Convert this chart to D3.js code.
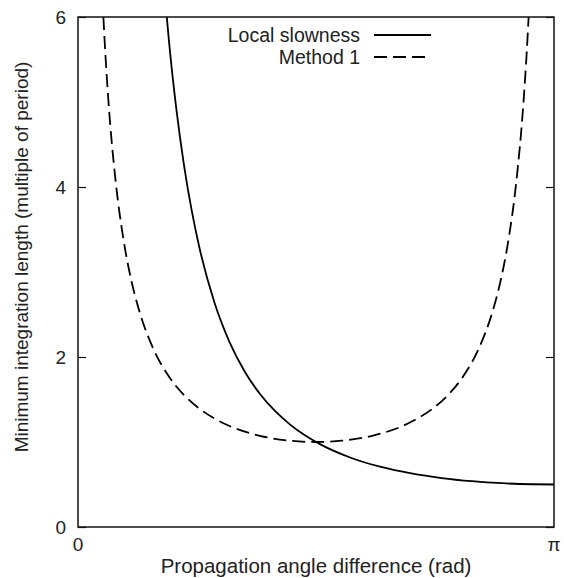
<!DOCTYPE html>
<html>
<head>
<meta charset="utf-8">
<script src="https://cdn.jsdelivr.net/npm/d3@7"></script>
<style>
  html, body { margin: 0; padding: 0; background: #fff; }
  text { font-family: "Liberation Sans", Arial, Helvetica, sans-serif; fill: #222; }
</style>
</head>
<body>
<svg id="chart" width="564" height="578"></svg>
<script>
// Data
const slownessAngle = [0.586, 0.6, 0.65, 0.7, 0.75, 0.8, 0.9, 1.0, 1.1, 1.2, 1.3, 1.4, 1.5, 1.6, 1.8, 2.0, 2.2, 2.4, 2.6, 2.8, 3.0, 3.1416];
const slownessValue = [6.0, 5.725, 4.904, 4.252, 3.727, 3.297, 2.643, 2.175, 1.830, 1.568, 1.365, 1.205, 1.076, 0.972, 0.815, 0.706, 0.630, 0.576, 0.539, 0.515, 0.503, 0.500];

const method1Angle = [0.1674, 0.18, 0.2, 0.25, 0.3, 0.35, 0.4, 0.5, 0.6, 0.7, 0.8, 0.9, 1.0, 1.2, 1.4, 1.5708, 1.7416, 1.9416, 2.1416, 2.2416, 2.3416, 2.4416, 2.5416, 2.6416, 2.7416, 2.7916, 2.8416, 2.8916, 2.9416, 2.9616, 2.9742];
const method1Value = [6.0, 5.586, 5.033, 4.042, 3.384, 2.916, 2.568, 2.086, 1.771, 1.552, 1.394, 1.277, 1.188, 1.073, 1.015, 1.000, 1.015, 1.073, 1.188, 1.277, 1.394, 1.552, 1.771, 2.086, 2.568, 2.916, 3.384, 4.042, 5.033, 5.586, 6.0];

const yTickValues = [0, 2, 4, 6];
const yTickLabels = ["0", "2", "4", "6"];
const xTickValues = [0, Math.PI];
const xTickLabels = ["0", "π"];

const seriesNames = ["Local slowness", "Method 1"];
const xTitle = "Propagation angle difference (rad)";
const yTitle = "Minimum integration length (multiple of period)";

// Layout
const svg = d3.select("#chart");
const mLeft = 78, mRight = 554, mTop = 17, mBottom = 527;
const x = d3.scaleLinear().domain([0, Math.PI]).range([mLeft, mRight]);
const y = d3.scaleLinear().domain([0, 6]).range([mBottom, mTop]);
const tickFont = 19, legendFont = 19.5, xTitleFont = 20.5, yTitleFont = 19;

svg.append("clipPath").attr("id", "clip")
  .append("rect").attr("x", mLeft).attr("y", mTop).attr("width", mRight - mLeft).attr("height", mBottom - mTop);

// Inward ticks on left and right
const yAxisL = d3.axisRight(y).tickValues(yTickValues).tickSize(8).tickFormat("");
const yAxisR = d3.axisLeft(y).tickValues(yTickValues).tickSize(8).tickFormat("");
const gL = svg.append("g").attr("transform", `translate(${mLeft},0)`).call(yAxisL);
const gR = svg.append("g").attr("transform", `translate(${mRight},0)`).call(yAxisR);
[gL, gR].forEach(g => {
  g.select(".domain").remove();
  g.selectAll("line").attr("stroke", "#111").attr("stroke-width", 1.2);
});

// Y tick labels
svg.append("g").selectAll("text").data(yTickValues).join("text")
  .attr("x", 66).attr("y", d => y(d)).attr("dy", "0.36em")
  .attr("text-anchor", "end").style("font-size", tickFont + "px")
  .text((d, i) => yTickLabels[i]);

// X tick labels
svg.append("g").selectAll("text").data(xTickValues).join("text")
  .attr("x", d => x(d)).attr("y", 551)
  .attr("text-anchor", "middle").style("font-size", tickFont + "px")
  .text((d, i) => xTickLabels[i]);

// Lines
const line = d3.line().x(d => x(d[0])).y(d => y(d[1])).curve(d3.curveMonotoneX);
const slowPts = slownessAngle.map((a, i) => [a, slownessValue[i]]);
const m1Pts = method1Angle.map((a, i) => [a, method1Value[i]]);

const plot = svg.append("g").attr("clip-path", "url(#clip)");
plot.append("path").datum(slowPts).attr("d", line)
  .attr("fill", "none").attr("stroke", "#000").attr("stroke-width", 1.8);
plot.append("path").datum(m1Pts).attr("d", line)
  .attr("fill", "none").attr("stroke", "#000").attr("stroke-width", 1.8)
  .attr("stroke-dasharray", "13,6");

// Frame
svg.append("rect").attr("x", mLeft).attr("y", mTop).attr("width", mRight - mLeft).attr("height", mBottom - mTop)
  .attr("fill", "none").attr("stroke", "#111").attr("stroke-width", 1.5);

// Legend
const legY = [35, 57];
const leg = svg.append("g");
seriesNames.forEach((name, i) => {
  leg.append("text").attr("x", 360).attr("y", legY[i]).attr("dy", "0.36em")
    .attr("text-anchor", "end").style("font-size", legendFont + "px").text(name);
  leg.append("line").attr("x1", 374).attr("x2", 431).attr("y1", legY[i]).attr("y2", legY[i])
    .attr("stroke", "#000").attr("stroke-width", 1.8)
    .attr("stroke-dasharray", i === 1 ? "13,6" : null);
});

// Axis titles
svg.append("text").attr("x", (mLeft + mRight) / 2).attr("y", 573)
  .attr("text-anchor", "middle").style("font-size", xTitleFont + "px").text(xTitle);
svg.append("text").attr("transform", `translate(28,257) rotate(-90)`)
  .attr("text-anchor", "middle").style("font-size", yTitleFont + "px").text(yTitle);
</script>
</body>
</html>
